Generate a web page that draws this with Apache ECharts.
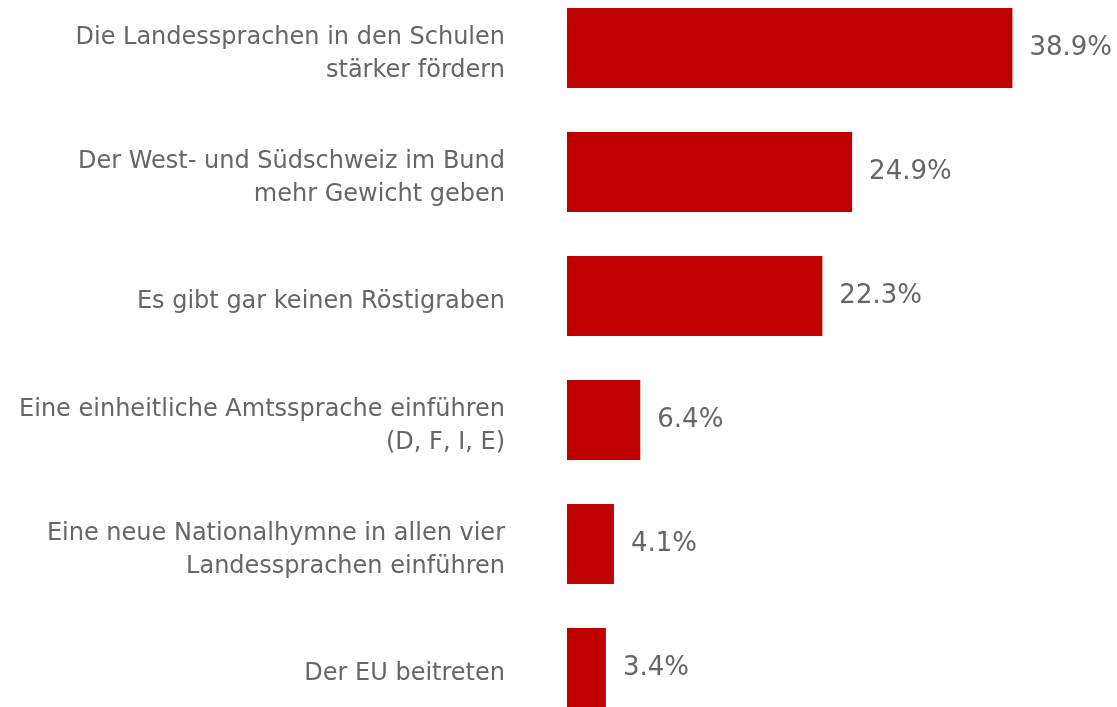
<!DOCTYPE html>
<html>
<head>
<meta charset="utf-8">
<script src="https://cdn.jsdelivr.net/npm/echarts@6/dist/echarts.min.js"></script>
</head>
<body style="margin: 0; padding: 0; background: #fff;">
<div id="chart" style="width: 1117px; height: 707px;"></div>
<script>
// Antworten (oben nach unten)
const categories = [
  'Die Landessprachen in den Schulen\nstärker fördern',
  'Der West- und Südschweiz im Bund\nmehr Gewicht geben',
  'Es gibt gar keinen Röstigraben',
  'Eine einheitliche Amtssprache einführen\n(D, F, I, E)',
  'Eine neue Nationalhymne in allen vier\nLandessprachen einführen',
  'Der EU beitreten'
]
const values = [38.9, 24.9, 22.3, 6.4, 4.1, 3.4]

const chart = echarts.init(document.getElementById('chart'))
chart.setOption({
  animation: false,
  // grid reicht oben und unten etwas über den Rand hinaus (letzter Balken ist angeschnitten)
  grid: { left: 567, top: -14, width: 458, height: 744, outerBoundsMode: 'none', containLabel: false },
  xAxis: {
    type: 'value', min: 0, max: 40,
    show: false
  },
  yAxis: {
    type: 'category',
    data: categories,
    inverse: true,
    axisLine: { show: false },
    axisTick: { show: false },
    axisLabel: {
      margin: 62,
      color: '#666666',
      fontFamily: 'DejaVu Sans',
      fontSize: 24,
      lineHeight: 33,
      align: 'right',
      // leere Zeile oben schiebt die Beschriftung etwas nach unten
      formatter: v => '{s| }\n' + v,
      rich: { s: { fontSize: 6, lineHeight: 12, height: 12 } }
    }
  },
  series: [{
    type: 'bar',
    data: values,
    barWidth: 80,
    itemStyle: { color: '#C00000' },
    label: {
      show: true,
      position: 'right',
      distance: 17,
      color: '#666666',
      fontFamily: 'DejaVu Sans',
      fontSize: 26,
      formatter: p => p.value.toFixed(1) + '%'
    }
  }]
})
</script>
</body>
</html>
